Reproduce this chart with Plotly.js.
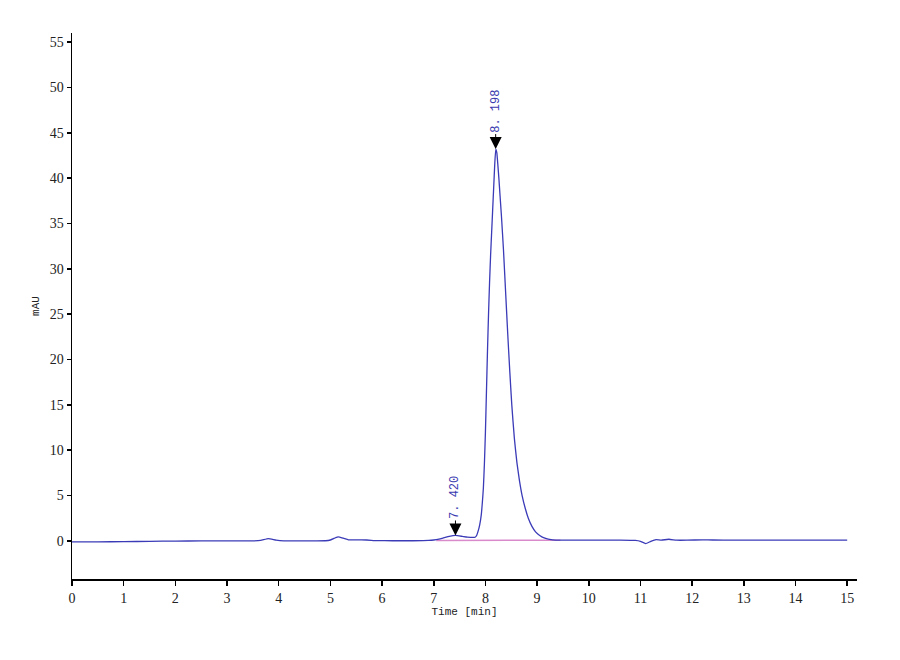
<!DOCTYPE html>
<html>
<head>
<meta charset="utf-8">
<script src="https://cdn.plot.ly/plotly-3.0.1.min.js"></script>
<style>html,body{margin:0;padding:0;background:#fff;}</style>
</head>
<body>
<div id="chart" style="width:900px;height:660px;"></div>
<script>
// Chromatogram signal (Time in min, mAU)
var timeMin = [0, 0.5, 1.0, 1.5, 2.0, 2.5, 3.0, 3.5, 3.65, 3.8, 3.95, 4.1, 4.5, 4.9, 5.0, 5.1, 5.15, 5.25, 5.35, 5.5, 5.7, 5.9, 6.2, 6.6, 6.9, 7.0, 7.1, 7.2, 7.3, 7.42, 7.55, 7.65, 7.75,
  7.80, 7.83, 7.86, 7.89, 7.92, 7.94, 7.96, 7.98, 8.00, 8.02, 8.04, 8.06, 8.08, 8.10, 8.12, 8.14, 8.16, 8.18, 8.20, 8.22, 8.24, 8.26, 8.28, 8.31, 8.35, 8.39, 8.43, 8.47, 8.51, 8.56, 8.61, 8.66, 8.71, 8.77, 8.83, 8.90, 8.97, 9.05, 9.15,
  9.3, 9.5, 9.8, 10.2, 10.6, 10.9, 11.0, 11.1, 11.2, 11.3, 11.4, 11.55, 11.7, 11.9, 12.2, 12.4, 12.8, 13.5, 14.2, 15.0];
var signalMAU = [-0.1, -0.1, -0.08, -0.05, -0.02, 0, 0, 0, 0.05, 0.25, 0.08, 0, 0, 0.02, 0.1, 0.35, 0.45, 0.3, 0.12, 0.12, 0.1, 0.03, 0.02, 0.02, 0.05, 0.1, 0.2, 0.35, 0.5, 0.6, 0.5, 0.42, 0.38,
  0.4, 0.6, 1.1, 1.8, 2.9, 4.2, 5.8, 8.5, 12, 16.5, 21, 25, 28.5, 31.5, 34, 36.5, 39, 41.5, 43.2, 42.8, 41.5, 40, 38.3, 35.8, 32, 27.5, 23, 18.8, 15, 11.3, 8.6, 6.6, 5.0, 3.6, 2.5, 1.6, 1.0, 0.6, 0.3,
  0.12, 0.08, 0.08, 0.08, 0.08, 0.05, -0.05, -0.3, -0.05, 0.15, 0.08, 0.18, 0.08, 0.08, 0.12, 0.1, 0.08, 0.08, 0.08, 0.08];

// Integration baseline
var baselineTime = [7.05, 9.45];
var baselineMAU = [0.05, 0.08];

// Peak labels
var peakTimes = [7.42, 8.198];
var peakHeights = [0.6, 43.2];
var peakLabels = ["7. 420", "8. 198"];

var xTicks = [0,1,2,3,4,5,6,7,8,9,10,11,12,13,14,15];
var yTicks = [0,5,10,15,20,25,30,35,40,45,50,55];

var traces = [
  {x: baselineTime, y: baselineMAU, mode: 'lines', line: {color: '#d98acb', width: 1.5}, hoverinfo: 'skip'},
  {x: timeMin, y: signalMAU, mode: 'lines', line: {color: '#3b3bb8', width: 1.3, shape: 'spline', smoothing: 0.4}}
];

var annotations = peakTimes.map(function(t, i) {
  return {
    x: t, y: peakHeights[i], xref: 'x', yref: 'y',
    text: peakLabels[i], textangle: -90,
    showarrow: true, ax: 0, ay: -38,
    arrowhead: 2, arrowsize: 2.4, arrowwidth: 1, arrowcolor: '#000',
    font: {family: 'Liberation Mono, monospace', size: 12, color: '#3b3bb0'}
  };
});

var tickFont = {family: 'Liberation Serif, serif', size: 14, color: '#222'};

var layout = {
  width: 900, height: 660,
  margin: {l: 72, r: 43, t: 33, b: 81},
  paper_bgcolor: '#ffffff', plot_bgcolor: '#ffffff',
  showlegend: false,
  xaxis: {
    range: [0, 15.19], tickvals: xTicks, ticktext: xTicks.map(String),
    showline: true, linecolor: '#000', linewidth: 2,
    ticks: 'outside', ticklen: 5, tickwidth: 1.5, tickcolor: '#000',
    showgrid: false, zeroline: false, tickfont: tickFont,
    title: {text: 'Time [min]', font: {family: 'Liberation Mono, monospace', size: 11, color: '#222'}, standoff: 2}
  },
  yaxis: {
    range: [-4.2, 56], tickvals: yTicks, ticktext: yTicks.map(String),
    showline: true, linecolor: '#000', linewidth: 1.5,
    ticks: 'outside', ticklen: 4, tickwidth: 1.5, tickcolor: '#000',
    showgrid: false, zeroline: false, tickfont: tickFont,
    title: {text: 'mAU', font: {family: 'Liberation Mono, monospace', size: 11, color: '#222'}, standoff: 8}
  },
  annotations: annotations
};

Plotly.newPlot('chart', traces, layout, {displayModeBar: false, staticPlot: true});
</script>
</body>
</html>
